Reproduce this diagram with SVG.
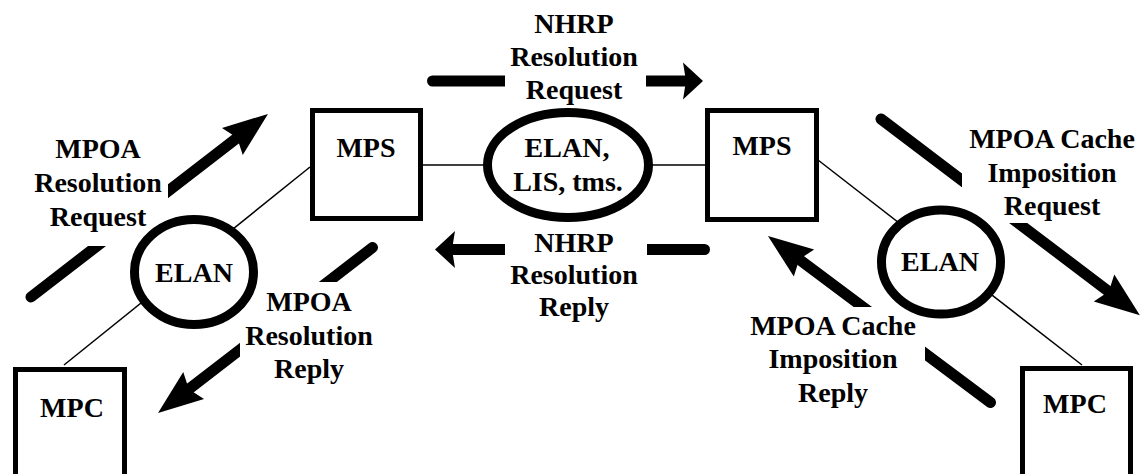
<svg xmlns="http://www.w3.org/2000/svg" width="1141" height="474" viewBox="0 0 1141 474" font-family="'Liberation Serif', 'Times New Roman', 'DejaVu Serif', serif">
  <style>
    .box { fill: #fff; stroke: #000; stroke-width: 5; }
    .lan { fill: #fff; stroke: #000; stroke-width: 9; }
    .link { stroke: #000; stroke-width: 1.5; fill: none; }
    .flow { stroke: #000; stroke-width: 11; stroke-linecap: round; fill: none; }
    .diag { marker-end: url(#headDiag); }
    .horiz { marker-end: url(#headHoriz); }
    .knock { fill: #fff; stroke: none; }
    text { font-family: 'Liberation Serif', 'Times New Roman', 'DejaVu Serif', serif; font-weight: 700; font-size: 28px; fill: #000; text-anchor: middle; }
  </style>
  <defs>
    <marker id="headDiag" markerUnits="userSpaceOnUse" viewBox="0 -20 50 40" markerWidth="50" markerHeight="40" refX="6" refY="0" orient="auto" overflow="visible">
      <path d="M0,-17 L45,0 L0,17 L6,0 Z" fill="#000"/>
    </marker>
    <marker id="headHoriz" markerUnits="userSpaceOnUse" viewBox="0 -20 30 40" markerWidth="30" markerHeight="40" refX="3" refY="0" orient="auto" overflow="visible">
      <path d="M0,-18.5 L20,0 L0,18.5 L3,0 Z" fill="#000"/>
    </marker>
  </defs>

  <rect width="1141" height="474" fill="#fff"/>

  <!-- connectors: thin links and the message flows -->
  <g id="connectors">
    <line class="link" x1="64" y1="365" x2="310" y2="167"/>
    <line class="link" x1="423" y1="165" x2="705" y2="165"/>
    <line class="link" x1="818" y1="160" x2="1082" y2="365"/>

    <line class="flow diag" x1="31" y1="297" x2="237.1" y2="137.8"/>
    <line class="flow diag" x1="372.5" y1="247.5" x2="188.9" y2="389.2"/>
    <line class="flow horiz" x1="432.5" y1="81" x2="686" y2="81"/>
    <line class="flow horiz" x1="704.5" y1="249.5" x2="452" y2="249.5"/>
    <line class="flow diag" x1="881" y1="119" x2="1108.8" y2="291.6"/>
    <line class="flow diag" x1="990.5" y1="402.5" x2="799.2" y2="259.4"/>
  </g>

  <!-- label backgrounds that break the flow arrows -->
  <g id="label-backgrounds">
    <rect class="knock" x="20" y="60" width="148" height="186"/>
    <rect class="knock" x="240" y="282" width="150" height="108"/>
    <rect class="knock" x="505" y="0" width="141" height="105"/>
    <rect class="knock" x="505" y="226" width="142" height="104"/>
    <rect class="knock" x="962" y="95" width="179" height="128"/>
    <rect class="knock" x="740" y="307" width="185" height="110"/>
  </g>

  <g id="mpc-left">
    <rect class="box" x="15.5" y="369.5" width="109" height="120"/>
    <text x="72" y="417">MPC</text>
  </g>
  <g id="elan-left">
    <ellipse class="lan" cx="194" cy="272" rx="59.5" ry="52.5"/>
    <text x="194" y="282">ELAN</text>
  </g>
  <g id="mps-left">
    <rect class="box" x="312.5" y="110.5" width="108" height="108"/>
    <text x="366" y="157">MPS</text>
  </g>
  <g id="elan-lis-center">
    <ellipse class="lan" cx="568" cy="165" rx="80.5" ry="52.5"/>
    <text x="567" y="157">ELAN,</text>
    <text x="568" y="191">LIS, tms.</text>
  </g>
  <g id="mps-right">
    <rect class="box" x="707.5" y="110.5" width="109" height="109"/>
    <text x="762" y="155">MPS</text>
  </g>
  <g id="elan-right">
    <ellipse class="lan" cx="941" cy="262" rx="59.5" ry="52"/>
    <text x="940" y="271">ELAN</text>
  </g>
  <g id="mpc-right">
    <rect class="box" x="1022.5" y="368.5" width="108" height="120"/>
    <text x="1075" y="413">MPC</text>
  </g>

  <!-- flow labels -->
  <g id="labels">
    <text x="98" y="158">MPOA</text>
    <text x="98" y="192">Resolution</text>
    <text x="98" y="226">Request</text>

    <text x="309" y="311">MPOA</text>
    <text x="309" y="345">Resolution</text>
    <text x="309" y="378">Reply</text>

    <text x="574" y="33">NHRP</text>
    <text x="574" y="66">Resolution</text>
    <text x="574" y="99">Request</text>

    <text x="574" y="252">NHRP</text>
    <text x="574" y="284">Resolution</text>
    <text x="574" y="316">Reply</text>

    <text x="1052" y="148">MPOA Cache</text>
    <text x="1052" y="182">Imposition</text>
    <text x="1052" y="215">Request</text>

    <text x="833" y="335">MPOA Cache</text>
    <text x="833" y="368">Imposition</text>
    <text x="833" y="402">Reply</text>
  </g>
</svg>
